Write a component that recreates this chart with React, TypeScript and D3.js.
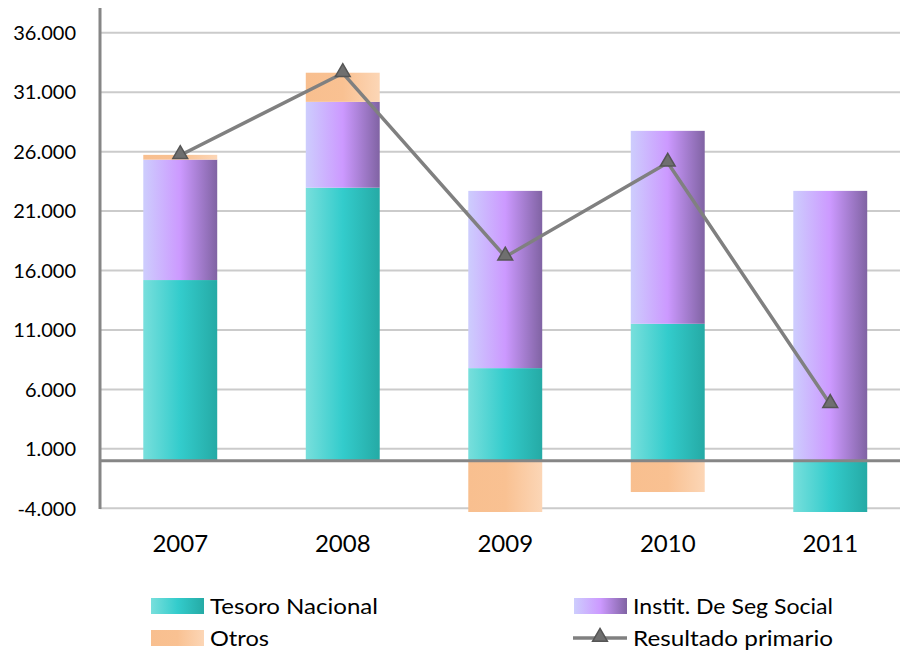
import { useEffect, useRef } from "react";
import * as d3 from "d3";

// Values (thousands shown with "." separator)
const years = ["2007", "2008", "2009", "2010", "2011"];
const tesoroNacional = [15200, 22970, 7790, 11520, -17940];
const institSegSocial = [10130, 7220, 14910, 16230, 22700];
const otros = [400, 2450, -5540, -2630, 0];
const resultadoPrimario = [25700, 32600, 17160, 25060, 4760];
const yTicks = [-4000, 1000, 6000, 11000, 16000, 21000, 26000, 31000, 36000];

const W = 900;
const H = 655;
const FONT = "Lato, 'Open Sans', sans-serif";

const seriesDefs = [
  { key: "tesoro", label: "Tesoro Nacional", values: tesoroNacional, grad: "gTeal" },
  { key: "instit", label: "Instit. De Seg Social", values: institSegSocial, grad: "gPurple" },
  { key: "otros", label: "Otros", values: otros, grad: "gOrange" },
];

export default function App() {
  const svgRef = useRef<SVGSVGElement>(null);

  useEffect(() => {
    if (!svgRef.current) return;
    const svg = d3.select(svgRef.current);
    svg.selectAll("*").remove();

    const defs = svg.append("defs");
    const addGrad = (id: string, stops: [number, string][]) => {
      const g = defs.append("linearGradient").attr("id", id)
        .attr("x1", "0%").attr("x2", "100%").attr("y1", "0%").attr("y2", "0%");
      stops.forEach(([o, c]) => g.append("stop").attr("offset", `${o}%`).attr("stop-color", c));
    };
    addGrad("gTeal", [[0, "#78dfdc"], [50, "#33cccc"], [100, "#25aaa5"]]);
    addGrad("gPurple", [[0, "#cdcdfd"], [50, "#cc99ff"], [100, "#8063a3"]]);
    addGrad("gOrange", [[0, "#f8bf8f"], [50, "#f9c192"], [100, "#fcd6b6"]]);

    defs.append("clipPath").attr("id", "plotClip")
      .append("rect").attr("x", 100).attr("y", 0).attr("width", 820).attr("height", 512);

    const x = d3.scaleBand<string>()
      .domain(years)
      .range([99, 911.5])
      .paddingInner(0.545)
      .paddingOuter(0.2725);

    const y = d3.scaleLinear().domain([-4000, 38000]).range([508.3, 9]);

    const fmt = d3.formatLocale({
      decimal: ",",
      thousands: ".",
      grouping: [3],
      currency: ["", ""],
      minus: "-",
    }).format(",.0f");

    // gridlines
    svg.append("g").selectAll("line").data(yTicks).join("line")
      .attr("x1", 100).attr("x2", W)
      .attr("y1", (d) => y(d)).attr("y2", (d) => y(d))
      .attr("stroke", "#cbcbcb").attr("stroke-width", 2);

    // y tick labels
    svg.append("g").selectAll("text").data(yTicks).join("text")
      .attr("x", 76).attr("y", (d) => y(d)).attr("dy", "0.36em")
      .attr("text-anchor", "end")
      .attr("font-family", FONT).attr("font-size", 20).attr("fill", "#000")
      .text((d) => fmt(d));

    // stacked bars (positives up from zero, negatives down)
    const bars = svg.append("g").attr("clip-path", "url(#plotClip)");
    years.forEach((yr, i) => {
      let pos = 0;
      let neg = 0;
      seriesDefs.forEach((s) => {
        const v = s.values[i];
        if (v === 0) return;
        let y0: number, y1: number;
        if (v > 0) { y0 = pos; y1 = pos + v; pos = y1; }
        else { y0 = neg; y1 = neg + v; neg = y1; }
        bars.append("rect")
          .attr("x", x(yr)!)
          .attr("width", x.bandwidth())
          .attr("y", y(Math.max(y0, y1)))
          .attr("height", Math.abs(y(y0) - y(y1)))
          .attr("fill", `url(#${s.grad})`);
      });
    });

    // y axis line
    svg.append("line").attr("x1", 100).attr("x2", 100).attr("y1", 8).attr("y2", 509)
      .attr("stroke", "#868686").attr("stroke-width", 3);

    // zero line
    svg.append("line").attr("x1", 100).attr("x2", W).attr("y1", y(0)).attr("y2", y(0))
      .attr("stroke", "#868686").attr("stroke-width", 3);

    // x labels
    svg.append("g").selectAll("text").data(years).join("text")
      .attr("x", (d) => x(d)! + x.bandwidth() / 2).attr("y", 552)
      .attr("text-anchor", "middle")
      .attr("font-family", FONT).attr("font-size", 24).attr("fill", "#000")
      .text((d) => d);

    // resultado primario line
    const cx = (i: number) => x(years[i])! + x.bandwidth() / 2;
    const line = d3.line<number>().x((_, i) => cx(i)).y((d) => y(d));
    svg.append("path").datum(resultadoPrimario).attr("d", line)
      .attr("fill", "none").attr("stroke", "#808080").attr("stroke-width", 3.5)
      .attr("stroke-linejoin", "round");

    const tri = d3.symbol().type(d3.symbolTriangle).size(95);
    svg.append("g").selectAll("path").data(resultadoPrimario).join("path")
      .attr("d", tri)
      .attr("transform", (d, i) => `translate(${cx(i)},${y(d) - 1})`)
      .attr("fill", "#6f6f6f").attr("stroke", "#555").attr("stroke-width", 1.5);

    // legend
    const leg = svg.append("g").attr("font-family", FONT).attr("font-size", 22).attr("fill", "#000");
    const legendItems = [
      { label: "Tesoro Nacional", grad: "gTeal", x: 151, y: 606, len: 168 },
      { label: "Instit. De Seg Social", grad: "gPurple", x: 574, y: 606, len: 200 },
      { label: "Otros", grad: "gOrange", x: 151, y: 638, len: 59 },
    ];
    legendItems.forEach((it) => {
      leg.append("rect").attr("x", it.x).attr("y", it.y - 8).attr("width", 53).attr("height", 16)
        .attr("fill", `url(#${it.grad})`);
      leg.append("text").attr("x", it.x + 59).attr("y", it.y).attr("dy", "0.36em")
        .attr("textLength", it.len).attr("lengthAdjust", "spacingAndGlyphs")
        .text(it.label);
    });
    leg.append("line").attr("x1", 573).attr("x2", 627).attr("y1", 638).attr("y2", 638)
      .attr("stroke", "#808080").attr("stroke-width", 3.5);
    leg.append("path").attr("d", tri).attr("transform", "translate(600,637)")
      .attr("fill", "#6f6f6f").attr("stroke", "#555").attr("stroke-width", 1.5);
    leg.append("text").attr("x", 633).attr("y", 638).attr("dy", "0.36em")
      .attr("textLength", 200).attr("lengthAdjust", "spacingAndGlyphs")
      .text("Resultado primario");
  }, []);

  return (
    <div style={{ position: "fixed", left: 0, top: 0, background: "#fff" }}>
      <svg ref={svgRef} width={W} height={H} style={{ display: "block" }} />
    </div>
  );
}
